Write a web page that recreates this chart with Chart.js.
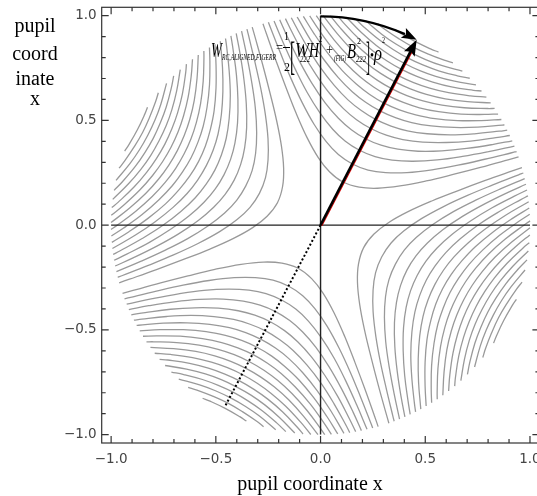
<!DOCTYPE html>
<html>
<head>
<meta charset="utf-8">
<script src="https://cdn.jsdelivr.net/npm/chart.js@4/dist/chart.umd.min.js"></script>
<style>
html,body{margin:0;padding:0;background:#fff;overflow:hidden;width:537px;height:496px;position:relative}
canvas{display:block;position:absolute;left:0;top:-20px}
</style>
</head>
<body>
<canvas id="c" width="580" height="530" style="width:580px;height:530px"></canvas>
<script>
// ---- values ----
// direction of the astigmatism axis (the solid arrow), degrees
const axisAngleDeg = 62.5;
// the four contour families are the same hyperbolas turned by these angles
const familyTurnsDeg = [0, 90, 180, 270];
// offsets across the axis at which each contour was read
const sampleV = [0, 0.08, 0.16, 0.25, 0.35, 0.45, 0.55, 0.65];
// distance along the axis of each contour at those offsets (one row per contour level)
const contourU = [
  [0.232, 0.246, 0.282, 0.341, 0.420, 0.507, 0.597, 0.690],
  [0.329, 0.338, 0.366, 0.413, 0.480, 0.557, 0.641, 0.728],
  [0.403, 0.410, 0.433, 0.474, 0.533, 0.604, 0.682],
  [0.465, 0.472, 0.492, 0.528, 0.582, 0.647, 0.720],
  [0.520, 0.526, 0.544, 0.577, 0.627, 0.687, 0.757],
  [0.569, 0.575, 0.591, 0.622, 0.668, 0.726, 0.792],
  [0.615, 0.620, 0.635, 0.664, 0.708, 0.762, 0.825],
  [0.657, 0.662, 0.677, 0.703, 0.745, 0.797],
  [0.697, 0.702, 0.715, 0.741, 0.780, 0.830],
  [0.735, 0.739, 0.752, 0.776, 0.814, 0.862],
  [0.771, 0.775, 0.787, 0.810, 0.847],
  [0.805, 0.809, 0.821, 0.843, 0.878],
  [0.838, 0.842, 0.853, 0.874, 0.908],
  [0.870, 0.873, 0.884, 0.905],
  [0.900, 0.904, 0.914, 0.934],
  [0.930, 0.933, 0.943],
  [0.958, 0.962, 0.971],
  [0.986, 0.989]
];
// where each contour meets the pupil edge (along-axis, across-axis)
const contourEnd = [
  [0.726, 0.688], [0.744, 0.668], [0.762, 0.647], [0.780, 0.626], [0.797, 0.604], [0.814, 0.581],
  [0.830, 0.558], [0.846, 0.533], [0.862, 0.507], [0.878, 0.480], [0.893, 0.451], [0.908, 0.420],
  [0.923, 0.386], [0.937, 0.349], [0.951, 0.308], [0.965, 0.261], [0.979, 0.203], [0.993, 0.118]
];
const arrowTip = [0.459, 0.885];
const arcStart = [0, 1.0];
const dottedEnd = [-0.457, -0.867];
const axisSpan = [-1, 1];
const xTicks = [-1, -0.5, 0, 0.5, 1];
const yTicks = [-1, -0.5, 0, 0.5, 1];
const minorTicks = [-1, -0.9, -0.8, -0.7, -0.6, -0.5, -0.4, -0.3, -0.2, -0.1, 0, 0.1, 0.2, 0.3, 0.4, 0.5, 0.6, 0.7, 0.8, 0.9, 1];
const xTitle = 'pupil coordinate x';
const yTitleLines = ['pupil', 'coord', 'inate', 'x'];

// canvas is shifted up by this many pixels inside the page
const OY = 20;

// ---- build contour datasets ----
const RAD = Math.PI / 180;
function curvePoints(i, turnDeg) {
  const us = contourU[i];
  const vs = sampleV.slice(0, us.length);
  const e = contourEnd[i];
  const uv = [[e[0], -e[1]]];
  for (let j = us.length - 1; j >= 1; j--) uv.push([us[j], -vs[j]]);
  for (let j = 0; j < us.length; j++) uv.push([us[j], vs[j]]);
  uv.push([e[0], e[1]]);
  const a = (axisAngleDeg + turnDeg) * RAD, c = Math.cos(a), s = Math.sin(a);
  return uv.map(([u, v]) => ({ x: u * c - v * s, y: u * s + v * c }));
}
const datasets = [];
familyTurnsDeg.forEach(t => {
  contourU.forEach((_, i) => {
    datasets.push({
      data: curvePoints(i, t),
      showLine: true,
      borderColor: 'rgba(0,0,0,0.4)',
      borderWidth: 1.3,
      pointRadius: 0,
      tension: 0.4,
      fill: false
    });
  });
});

const fmt = v => (v < 0 ? '\u2212' : '') + Math.abs(v).toFixed(1);

function txt(ctx, s, x, yb, size, italic, w) {
  ctx.save();
  ctx.font = (italic ? 'italic ' : '') + size + 'px "Liberation Serif", "Times New Roman", serif';
  ctx.textAlign = 'left';
  ctx.textBaseline = 'alphabetic';
  const m = ctx.measureText(s).width;
  const sx = w ? w / m : 1;
  ctx.translate(x, yb + OY);
  ctx.scale(sx, 1);
  ctx.fillText(s, 0, 0);
  ctx.restore();
}

function head(ctx, tx, ty, dx, dy, len, half) {
  const px = -dy, py = dx;
  ctx.beginPath();
  ctx.moveTo(tx, ty);
  ctx.lineTo(tx - dx * len + px * half, ty - dy * len + py * half);
  ctx.lineTo(tx - dx * len * 0.8, ty - dy * len * 0.8);
  ctx.lineTo(tx - dx * len - px * half, ty - dy * len - py * half);
  ctx.closePath();
  ctx.fill();
}

const decor = {
  id: 'decor',
  afterDatasetsDraw(chart) {
    const { ctx, chartArea: a, scales: { x, y } } = chart;
    ctx.save();
    // axes through the origin
    ctx.strokeStyle = '#222';
    ctx.lineWidth = 1.4;
    ctx.beginPath();
    ctx.moveTo(x.getPixelForValue(axisSpan[0]), y.getPixelForValue(0));
    ctx.lineTo(x.getPixelForValue(axisSpan[1]), y.getPixelForValue(0));
    ctx.moveTo(x.getPixelForValue(0), y.getPixelForValue(axisSpan[0]));
    ctx.lineTo(x.getPixelForValue(0), y.getPixelForValue(axisSpan[1]));
    ctx.stroke();

    // frame
    ctx.strokeStyle = '#333';
    ctx.lineWidth = 1.2;
    ctx.strokeRect(a.left, a.top, a.right - a.left, a.bottom - a.top);
    // inward ticks
    ctx.beginPath();
    minorTicks.forEach(v => {
      const major = Math.abs(v * 2 - Math.round(v * 2)) < 1e-6;
      const L = major ? 7 : 4;
      const px = x.getPixelForValue(v), py = y.getPixelForValue(v);
      ctx.moveTo(px, a.bottom); ctx.lineTo(px, a.bottom - L);
      ctx.moveTo(px, a.top); ctx.lineTo(px, a.top + L);
      ctx.moveTo(a.left, py); ctx.lineTo(a.left + L, py);
      ctx.moveTo(a.right, py); ctx.lineTo(a.right - L, py);
    });
    ctx.stroke();

    const ox = x.getPixelForValue(0), oy = y.getPixelForValue(0);
    // dotted line
    ctx.strokeStyle = '#000';
    ctx.lineWidth = 2;
    ctx.setLineDash([2, 2.2]);
    ctx.beginPath();
    ctx.moveTo(ox, oy);
    ctx.lineTo(x.getPixelForValue(dottedEnd[0]), y.getPixelForValue(dottedEnd[1]));
    ctx.stroke();
    ctx.setLineDash([]);

    // straight arrow
    const tx = x.getPixelForValue(arrowTip[0]), ty = y.getPixelForValue(arrowTip[1]);
    const L = Math.hypot(tx - ox, ty - oy), dx = (tx - ox) / L, dy = (ty - oy) / L;
    ctx.strokeStyle = '#e00000';
    ctx.lineWidth = 1.2;
    ctx.beginPath();
    ctx.moveTo(ox + 1.3, oy + 0.6);
    ctx.lineTo(tx - dx * 12 + 1.3, ty - dy * 12 + 0.6);
    ctx.stroke();
    ctx.strokeStyle = '#000';
    ctx.fillStyle = '#000';
    ctx.lineWidth = 2.6;
    ctx.beginPath();
    ctx.moveTo(ox, oy);
    ctx.lineTo(tx - dx * 12, ty - dy * 12);
    ctx.stroke();
    head(ctx, tx, ty, dx, dy, 16, 6);

    // curved arrow along the pupil edge
    const sx0 = x.getPixelForValue(arcStart[0]), sy0 = y.getPixelForValue(arcStart[1]);
    const rPx = Math.hypot(tx - ox, ty - oy);
    const a0 = Math.atan2(sy0 - oy, sx0 - ox);
    const a1 = Math.atan2(ty - oy, tx - ox);
    const back = 13 / rPx;
    ctx.lineWidth = 2.4;
    ctx.beginPath();
    ctx.arc(ox, oy, rPx, a0, a1 - back, false);
    ctx.stroke();
    const tdx = -Math.sin(a1), tdy = Math.cos(a1);
    head(ctx, tx, ty, tdx, tdy, 15, 5.5);
    ctx.restore();
  },
  afterDraw(chart) {
    const ctx = chart.ctx;
    ctx.save();
    ctx.fillStyle = '#000';
    // axis titles
    ctx.font = '20px "Liberation Serif", "Times New Roman", serif';
    ctx.textAlign = 'center';
    ctx.textBaseline = 'alphabetic';
    ctx.fillText(xTitle, 310, 490 + OY);
    const base = [32, 60, 85, 104.5];
    yTitleLines.forEach((s, i) => ctx.fillText(s, 35, base[i] + OY));
    // formula
    txt(ctx, 'W', 211, 57, 20, true, 11);
    txt(ctx, 'RC,ALIGNED,FIGERR', 222, 60, 9, true, 54);
    txt(ctx, '=', 276, 52, 14, false, 7);
    txt(ctx, '1', 284, 40, 13, false, 5);
    ctx.lineWidth = 1; ctx.strokeStyle = '#000';
    ctx.beginPath(); ctx.moveTo(283, 47.5 + OY); ctx.lineTo(290, 47.5 + OY); ctx.stroke();
    txt(ctx, '2', 284, 71, 13, false, 6);
    txt(ctx, '[', 290, 70, 40, false, 5);
    txt(ctx, 'W', 295, 57, 20, true, 14);
    txt(ctx, '222', 300, 62, 8, true, 10);
    txt(ctx, 'H', 309, 57, 20, true, 10);
    txt(ctx, '2', 319, 42, 8, false, 3);
    txt(ctx, '+', 326, 54, 14, false, 7);
    txt(ctx, '(FIG)', 334, 61, 8, true, 12);
    txt(ctx, 'B', 347, 58, 20, true, 9);
    txt(ctx, '2', 357, 44, 8, false, 4);
    txt(ctx, '222', 356, 62, 8, true, 10);
    txt(ctx, ']', 366, 70, 40, false, 4);
    txt(ctx, '\u2022', 370, 60, 14, false, 4);
    txt(ctx, '\u03C1', 374, 60, 20, true, 8);
    txt(ctx, '2', 382, 43, 8, false, 3);
    ctx.restore();
  }
};

new Chart(document.getElementById('c'), {
  type: 'scatter',
  data: { datasets },
  options: {
    animation: false,
    responsive: false,
    devicePixelRatio: 1,
    events: [],
    layout: { padding: { top: 7.3 + OY, right: 580 - 539.4, left: 0, bottom: 530 - OY - 496 } },
    plugins: { legend: { display: false }, tooltip: { enabled: false } },
    scales: {
      x: {
        type: 'linear', position: 'bottom', min: -1.045, max: 1.045,
        grid: { display: false, drawTicks: false }, border: { display: false },
        afterBuildTicks: s => { s.ticks = xTicks.map(v => ({ value: v })); },
        afterFit: s => { s.height = 53; },
        ticks: { padding: 8, autoSkip: false, maxRotation: 0, color: '#444',
                 font: { family: 'DejaVu Sans', size: 13.5 }, callback: v => fmt(v) }
      },
      y: {
        type: 'linear', position: 'left', min: -1.04, max: 1.04,
        grid: { display: false, drawTicks: false }, border: { display: false },
        afterBuildTicks: s => { s.ticks = yTicks.map(v => ({ value: v })); },
        afterFit: s => { s.width = 101.7; },
        ticks: { padding: 5, autoSkip: false, color: '#444',
                 font: { family: 'DejaVu Sans', size: 13.5 }, callback: v => fmt(v) }
      }
    }
  },
  plugins: [decor]
});
</script>
</body>
</html>
